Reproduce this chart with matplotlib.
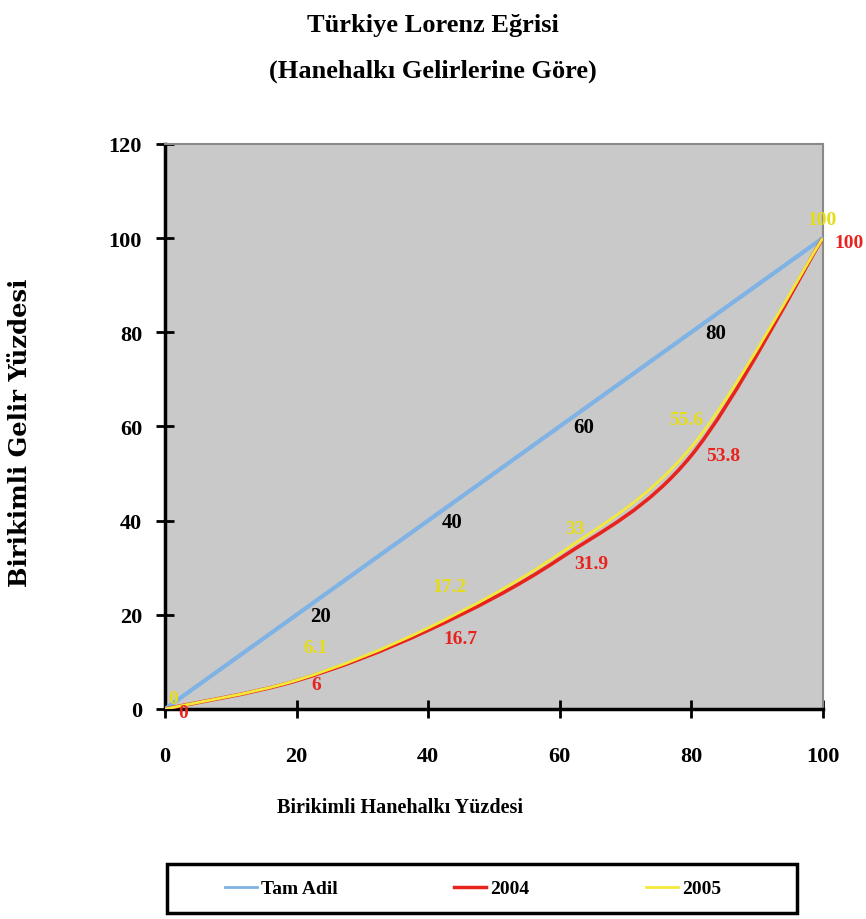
import matplotlib.pyplot as plt
from matplotlib.path import Path
from matplotlib.patches import PathPatch, Rectangle
from matplotlib.lines import Line2D

plt.rcParams['font.family'] = ['Liberation Serif', 'DejaVu Serif']
plt.rcParams['font.weight'] = 'bold'

x = [0, 20, 40, 60, 80, 100]
tam_adil = [0, 20, 40, 60, 80, 100]
y2004 = [0, 6, 16.7, 31.9, 53.8, 100]
y2005 = [0, 6.1, 17.2, 33, 55.6, 100]
xticks = [0, 20, 40, 60, 80, 100]
yticks = [0, 20, 40, 60, 80, 100, 120]

c_blue = '#7fb2e5'
c_red = '#e8231e'
c_yel = '#f2e93a'


def smooth_path(xs, ys):
    # Excel style smoothed line: Catmull-Rom segments as cubic Bezier
    pts = list(zip(xs, ys))
    verts = [pts[0]]
    codes = [Path.MOVETO]
    n = len(pts)
    for i in range(n - 1):
        p0 = pts[max(i - 1, 0)]
        p1 = pts[i]
        p2 = pts[i + 1]
        p3 = pts[min(i + 2, n - 1)]
        c1 = (p1[0] + (p2[0] - p0[0]) / 6, p1[1] + (p2[1] - p0[1]) / 6)
        c2 = (p2[0] - (p3[0] - p1[0]) / 6, p2[1] - (p3[1] - p1[1]) / 6)
        verts += [c1, c2, p2]
        codes += [Path.CURVE4] * 3
    return Path(verts, codes)


fig = plt.figure(figsize=(8.66, 9.2), dpi=100)
ax = fig.add_axes([0.1905, 0.2283, 0.7595, 0.6141])
ax.set_facecolor('#c9c9c9')

ax.plot(x, tam_adil, color=c_blue, lw=3, solid_capstyle='round', zorder=3)
ax.add_patch(PathPatch(smooth_path(x, y2004), fill=False, edgecolor=c_red,
                       lw=2.6, zorder=4))
ax.add_patch(PathPatch(smooth_path(x, y2005), fill=False, edgecolor=c_yel,
                       lw=2.0, zorder=5))

ax.set_xlim(0, 100)
ax.set_ylim(0, 120)
ax.set_xticks(xticks)
ax.set_yticks(yticks)
ax.tick_params(direction='inout', length=13, width=2, labelsize=16)
ax.tick_params(axis='x', pad=20)
ax.tick_params(axis='y', pad=10)

for s in ['left', 'bottom']:
    ax.spines[s].set_linewidth(2.5)
    ax.spines[s].set_color('black')
for s in ['top', 'right']:
    ax.spines[s].set_linewidth(1.5)
    ax.spines[s].set_color('#8c8888')

# data labels (offsets in pixels)
off_blue = [(14, -1)] * 6
off_red = [(13, -4), (15, -4), (15, -8), (15, -5), (15, 0), (12, -4)]
off_yel = [(3, 10), (7, 33), (4, 41), (6, 25), (-22, 28), (-15, 19)]

for i in range(1, 5):
    ax.annotate(f'{tam_adil[i]:g}', (x[i], tam_adil[i]), xytext=off_blue[i],
                textcoords='offset pixels', ha='left', va='center',
                fontsize=15, color='black', zorder=6)
for i in range(len(x)):
    ax.annotate(f'{y2005[i]:g}', (x[i], y2005[i]), xytext=off_yel[i],
                textcoords='offset pixels', ha='left', va='center',
                fontsize=14, color='#e6dc14', annotation_clip=False, zorder=7)
    ax.annotate(f'{y2004[i]:g}', (x[i], y2004[i]), xytext=off_red[i],
                textcoords='offset pixels', ha='left', va='center',
                fontsize=14, color=c_red, annotation_clip=False, zorder=8)

fig.text(0.5, 0.972, 'Türkiye Lorenz Eğrisi', ha='center', va='center',
         fontsize=19)
fig.text(0.5, 0.923, '(Hanehalkı Gelirlerine Göre)', ha='center',
         va='center', fontsize=19)
fig.text(0.462, 0.122, 'Birikimli Hanehalkı Yüzdesi', ha='center',
         va='center', fontsize=14.5)
fig.text(0.023, 0.53, 'Birikimli Gelir Yüzdesi', ha='center', va='center',
         rotation=90, fontsize=17.5, family='DejaVu Serif')

# legend box
fig.patches.append(Rectangle((0.193, 0.006), 0.727, 0.054,
                             transform=fig.transFigure, fill=False,
                             edgecolor='black', lw=2.5))
handles = [Line2D([], [], color=c_blue, lw=2),
           Line2D([], [], color=c_red, lw=2.5),
           Line2D([], [], color=c_yel, lw=2)]
leg = fig.legend(handles, ['Tam Adil', '2004', '2005'], ncol=3,
                 loc='center', bbox_to_anchor=(0.546, 0.033),
                 fontsize=14, handlelength=1.65, handletextpad=0.2,
                 columnspacing=6.0, frameon=False)

fig.savefig('out.png', dpi=100)
